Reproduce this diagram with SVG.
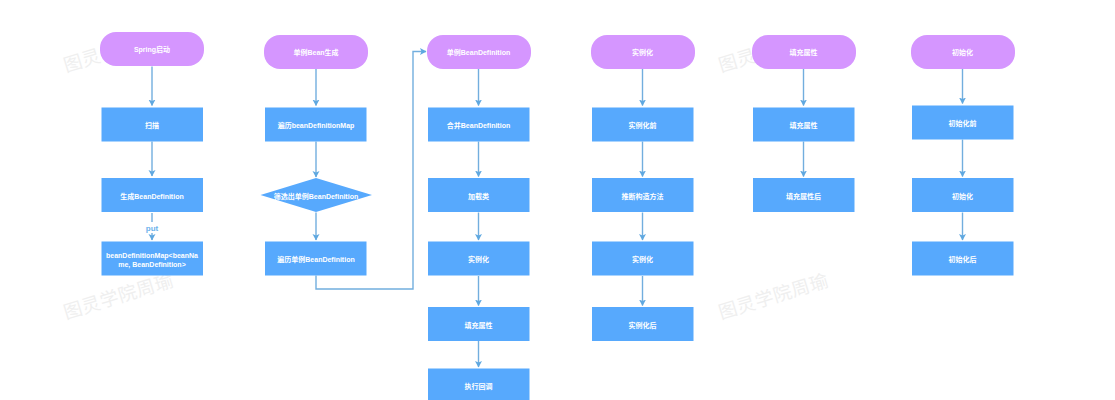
<svg xmlns="http://www.w3.org/2000/svg" width="1115" height="400" viewBox="0 0 1115 400">
<style>
text{font-family:"Liberation Sans","Noto Sans CJK SC",sans-serif;font-size:7px;font-weight:700;fill:#fff;text-anchor:middle;dominant-baseline:central}
.p{fill:#d596ff}
.r{fill:#57a9fd}
.c{fill:none;stroke:#72aede;stroke-width:1.4}
.w{font-size:18.500px;font-weight:400;fill:#efefef;letter-spacing:.5px;text-anchor:start}
.l{fill:#6cb2ec;font-weight:700;font-size:8px}
</style>
<defs><marker id="a" markerUnits="userSpaceOnUse" markerWidth="7" markerHeight="9" refX="6" refY="3.5" orient="auto"><path d="M0 0L6.500 3.500L0 7L1.500 3.500Z" fill="#5fa8e0"/></marker></defs>
<rect width="1115" height="400" fill="#fff"/>
<g id="watermarks">
<text class="w" transform="translate(64 66) rotate(-17)">图灵</text>
<text class="w" transform="translate(64 313) rotate(-17)">图灵学院周瑜</text>
<text class="w" transform="translate(719 66) rotate(-17)">图灵</text>
<text class="w" transform="translate(719 313) rotate(-17)">图灵学院周瑜</text>
</g>
<g id="connectors" marker-end="url(#a)">
<path class="c" d="M152 66.500V105.500"/>
<path class="c" d="M152 141.500V176"/>
<path class="c" d="M152 213V240"/>
<path class="c" d="M316 69V105.500"/>
<path class="c" d="M316 141.500V177"/>
<path class="c" d="M316 212.500V240"/>
<path class="c" d="M316 275.500V289H413V51.500H426"/>
<path class="c" d="M478.500 69V105.500"/>
<path class="c" d="M478.500 141.500V176.500"/>
<path class="c" d="M478.500 212.500V240"/>
<path class="c" d="M478.500 276V305.500"/>
<path class="c" d="M478.500 341V367"/>
<path class="c" d="M642.500 69V105.500"/>
<path class="c" d="M642.500 141.500V176.500"/>
<path class="c" d="M642.500 212.500V240"/>
<path class="c" d="M642.500 276V305.500"/>
<path class="c" d="M803.500 69V105.500"/>
<path class="c" d="M803.500 141.500V176.500"/>
<path class="c" d="M962.500 69V103.500"/>
<path class="c" d="M962.500 139.500V176.500"/>
<path class="c" d="M962.500 212.500V240"/>
</g>
<g id="label-put"><rect x="146" y="222" width="12" height="11" fill="#fff"/><text class="l" x="152" y="228">put</text></g>
<g id="n1"><rect class="p" x="100" y="32" width="104" height="34" rx="16"/><text x="152" y="49.500">Spring启动</text></g>
<g id="n2"><rect class="r" x="101.500" y="107.500" width="101.500" height="34"/><text x="152" y="125">扫描</text></g>
<g id="n3"><rect class="r" x="101.500" y="178" width="101.500" height="34"/><text x="152" y="196">生成BeanDefinition</text></g>
<g id="n4"><rect class="r" x="101.500" y="241.500" width="101.500" height="34"/><text x="152" y="255">beanDefinitionMap&lt;beanNa</text><text x="152" y="264">me, BeanDefinition&gt;</text></g>
<g id="n5"><rect class="p" x="264" y="35" width="104" height="34" rx="16"/><text x="316" y="52.500">单例Bean生成</text></g>
<g id="n6"><rect class="r" x="265" y="107.500" width="101.500" height="34"/><text x="316" y="125">遍历beanDefinitionMap</text></g>
<g id="n7"><path class="r" d="M260.500 195L316 178L372 195L316 212Z"/><text x="316" y="196">筛选出单例BeanDefinition</text></g>
<g id="n8"><rect class="r" x="265" y="241.500" width="101.500" height="34"/><text x="316" y="259">遍历单例BeanDefinition</text></g>
<g id="n9"><rect class="p" x="427" y="35" width="104" height="34" rx="16"/><text x="478.500" y="52.500">单例BeanDefinition</text></g>
<g id="n10"><rect class="r" x="428" y="107.500" width="101.500" height="34"/><text x="478.500" y="125">合并BeanDefinition</text></g>
<g id="n11"><rect class="r" x="428" y="178" width="101.500" height="34"/><text x="478.500" y="196">加载类</text></g>
<g id="n12"><rect class="r" x="428" y="241.500" width="101.500" height="34"/><text x="478.500" y="259">实例化</text></g>
<g id="n13"><rect class="r" x="428" y="307" width="101.500" height="34"/><text x="478.500" y="325">填充属性</text></g>
<g id="n14"><rect class="r" x="428" y="368.500" width="101.500" height="34"/><text x="478.500" y="386">执行回调</text></g>
<g id="n15"><rect class="p" x="591" y="35" width="104" height="34" rx="16"/><text x="642.500" y="52.500">实例化</text></g>
<g id="n16"><rect class="r" x="592" y="107.500" width="101.500" height="34"/><text x="642.500" y="125">实例化前</text></g>
<g id="n17"><rect class="r" x="592" y="178" width="101.500" height="34"/><text x="642.500" y="196">推断构造方法</text></g>
<g id="n18"><rect class="r" x="592" y="241.500" width="101.500" height="34"/><text x="642.500" y="259">实例化</text></g>
<g id="n19"><rect class="r" x="592" y="307" width="101.500" height="34"/><text x="642.500" y="325">实例化后</text></g>
<g id="n20"><rect class="p" x="752" y="35" width="104" height="34" rx="16"/><text x="803.500" y="52.500">填充属性</text></g>
<g id="n21"><rect class="r" x="753" y="107.500" width="101.500" height="34"/><text x="803.500" y="125">填充属性</text></g>
<g id="n22"><rect class="r" x="753" y="178" width="101.500" height="34"/><text x="803.500" y="196">填充属性后</text></g>
<g id="n23"><rect class="p" x="911" y="35" width="104" height="34" rx="16"/><text x="962.500" y="52.500">初始化</text></g>
<g id="n24"><rect class="r" x="912" y="105.500" width="101.500" height="34"/><text x="962.500" y="123">初始化前</text></g>
<g id="n25"><rect class="r" x="912" y="178" width="101.500" height="34"/><text x="962.500" y="196">初始化</text></g>
<g id="n26"><rect class="r" x="912" y="241.500" width="101.500" height="34"/><text x="962.500" y="259">初始化后</text></g>
</svg>
